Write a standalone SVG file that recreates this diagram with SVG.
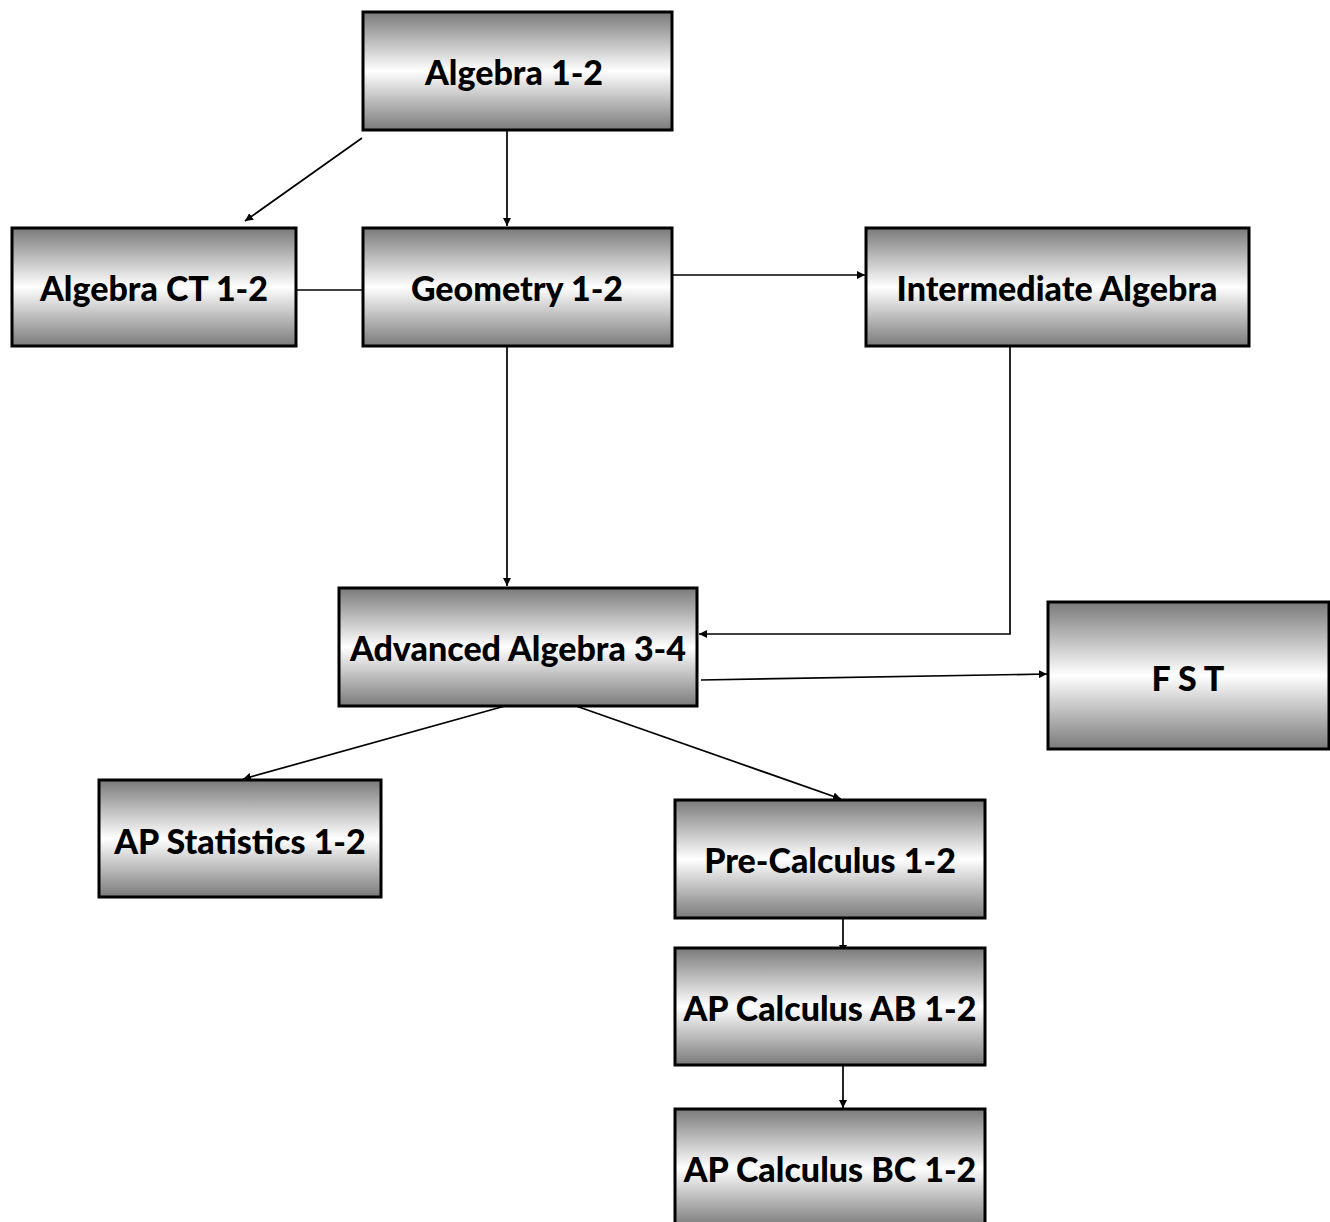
<svg xmlns="http://www.w3.org/2000/svg" width="1330" height="1222" viewBox="0 0 1330 1222">
<defs>
<linearGradient id="g" x1="0" y1="0" x2="0" y2="1">
<stop offset="0" stop-color="#7a7a7a"/>
<stop offset="0.5" stop-color="#ffffff"/>
<stop offset="1" stop-color="#7a7a7a"/>
</linearGradient>
<marker id="a" viewBox="0 0 10 10" refX="10" refY="5" markerWidth="8" markerHeight="8" markerUnits="userSpaceOnUse" orient="auto">
<path d="M0,0 L10,5 L0,10 z" fill="#000"/>
</marker>
<style>
.box{fill:url(#g);stroke:#000;stroke-width:3}
.t{font-family:Lato,"Liberation Sans",sans-serif;font-weight:900;font-size:34px;fill:#000;text-anchor:middle;dominant-baseline:central}
.c{stroke:#000;stroke-width:1.7;fill:none}
.ar{marker-end:url(#a)}
</style>
</defs>
<rect width="1330" height="1222" fill="#fff"/>
<g id="connectors">
<line class="c ar" x1="362" y1="138" x2="245" y2="221"/>
<line class="c ar" x1="507" y1="130" x2="507" y2="226"/>
<line class="c" x1="296" y1="290" x2="363" y2="290"/>
<line class="c ar" x1="672" y1="275" x2="865" y2="275"/>
<line class="c ar" x1="507" y1="346" x2="507" y2="586"/>
<polyline class="c ar" points="1010,346 1010,634 699,634"/>
<line class="c ar" x1="701" y1="680" x2="1047" y2="674"/>
<line class="c ar" x1="505" y1="706" x2="243" y2="779"/>
<line class="c ar" x1="576" y1="706" x2="841" y2="799"/>
<line class="c ar" x1="843" y1="918" x2="843" y2="953"/>
<line class="c ar" x1="843" y1="1065" x2="843" y2="1108"/>
</g>
<g id="algebra12"><rect class="box" x="363" y="12" width="309" height="118"/><text class="t" x="514" y="71">Algebra 1-2</text></g>
<g id="algebraCT"><rect class="box" x="12" y="228" width="284" height="118"/><text class="t" x="154" y="287">Algebra CT 1-2</text></g>
<g id="geometry"><rect class="box" x="363" y="228" width="309" height="118"/><text class="t" x="517" y="287">Geometry 1-2</text></g>
<g id="intermediate"><rect class="box" x="866" y="228" width="383" height="118"/><text class="t" x="1057" y="287">Intermediate Algebra</text></g>
<g id="advanced"><rect class="box" x="339" y="588" width="358" height="118"/><text class="t" x="518" y="647">Advanced Algebra 3-4</text></g>
<g id="fst"><rect class="box" x="1048" y="602" width="281" height="147"/><text class="t" x="1188" y="677">F S T</text></g>
<g id="apstats"><rect class="box" x="99" y="780" width="282" height="117"/><text class="t" x="240" y="840">AP Statistics 1-2</text></g>
<g id="precalc"><rect class="box" x="675" y="800" width="310" height="118"/><text class="t" x="830" y="859">Pre-Calculus 1-2</text></g>
<g id="calcAB"><rect class="box" x="675" y="948" width="310" height="117"/><text class="t" x="830" y="1007">AP Calculus AB 1-2</text></g>
<g id="calcBC"><rect class="box" x="675" y="1109" width="310" height="118"/><text class="t" x="830" y="1168">AP Calculus BC 1-2</text></g>
</svg>
